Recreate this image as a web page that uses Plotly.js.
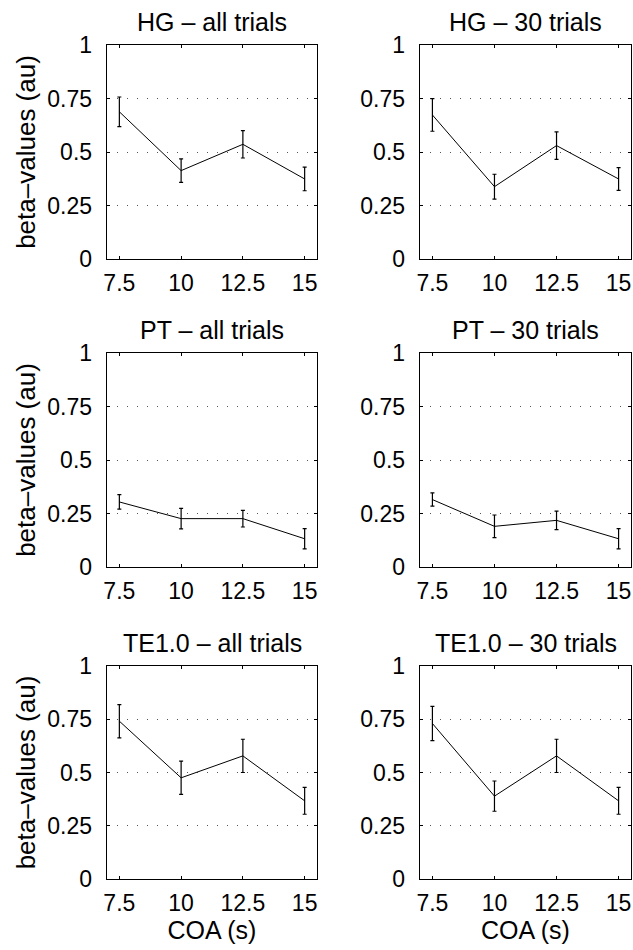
<!DOCTYPE html>
<html><head><meta charset="utf-8">
<script src="https://cdn.plot.ly/plotly-3.0.1.min.js"></script>
<style>body{margin:0;background:#fff}</style>
</head><body><div id="chart" style="width:633px;height:950px"></div>
<script>
const coa = [7.5, 10, 12.5, 15];
const xTickLabels = ['7.5', '10', '12.5', '15'];
const yTickVals = [0, 0.25, 0.5, 0.75, 1];
const yTickLabels = ['0', '0.25', '0.5', '0.75', '1'];
const titles = ['HG – all trials', 'HG – 30 trials', 'PT – all trials', 'PT – 30 trials', 'TE1.0 – all trials', 'TE1.0 – 30 trials'];
const yLabel = 'beta–values (au)';
const xLabel = 'COA (s)';

const hgAll = [0.688, 0.413, 0.536, 0.374];
const hgAllErr = [0.069, 0.055, 0.064, 0.055];
const hg30 = [0.673, 0.338, 0.530, 0.374];
const hg30Err = [0.076, 0.058, 0.064, 0.053];
const ptAll = [0.304, 0.226, 0.226, 0.132];
const ptAllErr = [0.034, 0.048, 0.039, 0.047];
const pt30 = [0.315, 0.190, 0.218, 0.132];
const pt30Err = [0.031, 0.053, 0.043, 0.047];
const teAll = [0.741, 0.475, 0.578, 0.367];
const teAllErr = [0.078, 0.078, 0.078, 0.063];
const te30 = [0.730, 0.389, 0.578, 0.367];
const te30Err = [0.080, 0.071, 0.078, 0.063];

const series = [hgAll, hg30, ptAll, pt30, teAll, te30];
const errors = [hgAllErr, hg30Err, ptAllErr, pt30Err, teAllErr, te30Err];

const W = 633, H = 950;
const colDom = [[107 / W, 317 / W], [420 / W, 631 / W]];
const rowDom = [[1 - 259 / H, 1 - 45 / H], [1 - 567 / H, 1 - 353 / H], [1 - 879 / H, 1 - 666 / H]];
const FONT = 'Liberation Sans, Arial, Helvetica, sans-serif';
const TICK_FS = 23, TITLE_FS = 25, YLAB_FS = 26, XLAB_FS = 25;

const traces = [];
const layout = {
  width: W, height: H,
  margin: {l: 0, r: 0, t: 0, b: 0},
  paper_bgcolor: '#fff', plot_bgcolor: '#fff',
  showlegend: false,
  font: {family: FONT, size: TICK_FS, color: '#000'},
  annotations: []
};

for (let i = 0; i < 6; i++) {
  const r = Math.floor(i / 2), c = i % 2;
  const ax = i === 0 ? '' : String(i + 1);
  traces.push({
    x: coa, y: series[i],
    xaxis: 'x' + ax, yaxis: 'y' + ax,
    type: 'scatter', mode: 'lines',
    line: {color: '#000', width: 1},
    error_y: {type: 'data', array: errors[i], visible: true, color: '#000', thickness: 1.2, width: 2},
    hoverinfo: 'skip'
  });
  layout['xaxis' + ax] = {
    domain: colDom[c], anchor: 'y' + ax,
    range: [7, 15.5],
    tickvals: coa, ticktext: xTickLabels,
    ticks: 'inside', ticklen: 3, tickcolor: '#000',
    showline: true, linecolor: '#000', linewidth: 1.3, mirror: 'ticks',
    showgrid: false, zeroline: false,
    tickfont: {size: TICK_FS},
    ticklabelstandoff: 3,
    title: r === 2 ? {text: xLabel, font: {size: XLAB_FS}, standoff: 5} : {text: ''}
  };
  layout['yaxis' + ax] = {
    domain: rowDom[r], anchor: 'x' + ax,
    range: [0, 1],
    tickvals: yTickVals, ticktext: yTickLabels,
    ticks: 'inside', ticklen: 3, tickcolor: '#000',
    showline: true, linecolor: '#000', linewidth: 1.3, mirror: 'ticks',
    showgrid: true, gridcolor: '#555', gridwidth: 1, griddash: '1px,9px',
    zeroline: false,
    tickfont: {size: TICK_FS},
    ticklabelstandoff: 9,
    title: c === 0 ? {text: yLabel, font: {size: YLAB_FS}, standoff: 4} : {text: ''}
  };
  layout.annotations.push({
    text: titles[i], xref: 'paper', yref: 'paper',
    x: (colDom[c][0] + colDom[c][1]) / 2, y: rowDom[r][1],
    xanchor: 'center', yanchor: 'bottom', yshift: 7,
    showarrow: false, font: {size: TITLE_FS, family: FONT, color: '#000'}
  });
}

Plotly.newPlot('chart', traces, layout, {staticPlot: true});
</script></body></html>
